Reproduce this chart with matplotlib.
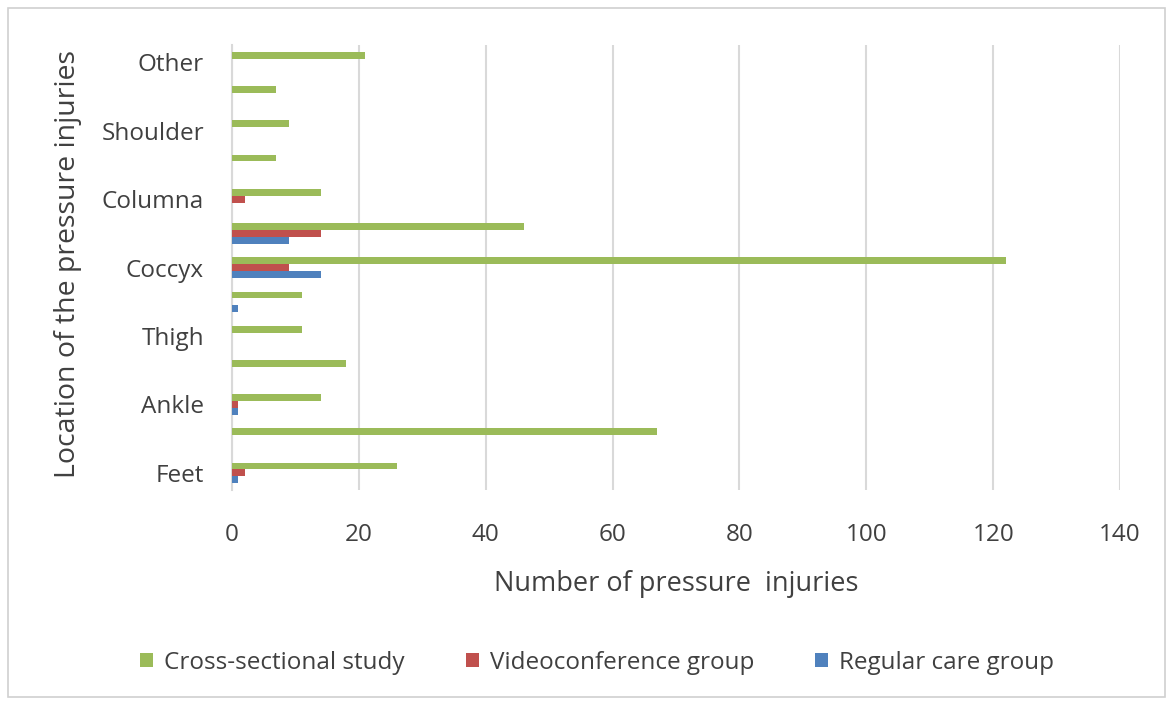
import matplotlib.pyplot as plt
import numpy as np
from matplotlib.patches import Rectangle

plt.rcParams["font.family"] = ["Open Sans", "DejaVu Sans"]

# bottom -> top; unlabeled rows are hidden by the axis (only every other label shown)
locations = ["Feet", "", "Ankle", "", "Thigh", "", "Coccyx", "", "Columna", "", "Shoulder", "", "Other"]
cross_sectional = [26, 67, 14, 18, 11, 11, 122, 46, 14, 7, 9, 7, 21]
videoconference = [2, 0, 1, 0, 0, 0, 9, 14, 2, 0, 0, 0, 0]
regular_care = [1, 0, 1, 0, 0, 1, 14, 9, 0, 0, 0, 0, 0]
xticks = [0, 20, 40, 60, 80, 100, 120, 140]

GREEN, RED, BLUE = "#9BBB59", "#C0504D", "#4F81BD"
GRID = "#D9D9D9"
TXT = "#404040"

fig = plt.figure(figsize=(11.71, 7.05), dpi=100)
fig.patches.append(Rectangle((0.007, 0.011), 0.988, 0.978, transform=fig.transFigure,
                             fill=False, edgecolor="#D0D0D0", lw=1.2))
ax = fig.add_axes([0.198, 0.305, 0.7585, 0.631])

y = np.arange(len(locations))
h = 0.2
ax.barh(y + h, cross_sectional, height=h, color=GREEN, label="Cross-sectional study", zorder=3)
ax.barh(y, videoconference, height=h, color=RED, label="Videoconference group", zorder=3)
ax.barh(y - h, regular_care, height=h, color=BLUE, label="Regular care group", zorder=3)

ax.set_ylim(-0.5, len(locations) - 0.5)
ax.set_xlim(0, 140)
ax.set_xticks(xticks)
ax.set_yticks(y[::2])
ax.set_yticklabels(locations[::2])
ax.tick_params(axis="both", length=0, labelsize=17.5, colors=TXT)
ax.tick_params(axis="x", pad=24)
ax.tick_params(axis="y", pad=20)
ax.grid(axis="x", color=GRID, lw=1.5, zorder=0)
for s in ["top", "right", "bottom"]:
    ax.spines[s].set_visible(False)
ax.spines["left"].set_color(GRID)
ax.spines["left"].set_linewidth(1.5)

ax.set_xlabel("Number of pressure  injuries", fontsize=19.5, color=TXT, labelpad=16)
fig.text(0.058, 0.625, "Location of the pressure injuries", rotation=90, fontsize=20.5,
         color=TXT, ha="center", va="center")

fig.legend(loc="center", bbox_to_anchor=(0.51, 0.06), ncol=3, frameon=False, fontsize=17.5,
           handlelength=0.55, handleheight=0.55, handletextpad=0.45, columnspacing=2.5,
           labelcolor=TXT)

fig.savefig("out.png", dpi=100, facecolor="white")
